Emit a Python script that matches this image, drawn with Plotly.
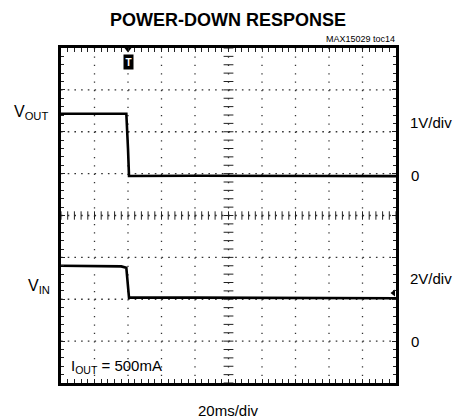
import plotly.graph_objects as go

# ---- data ----
t_out = [-40, -20, -1, 0, 0.6, 40, 80, 120, 160]          # ms
v_out = [1.43, 1.43, 1.43, 0.6, -0.055, -0.05, -0.06, -0.055, -0.06]  # V, 1V/div
t_in = [-40, -20, -4, -1, 0, 0.6, 40, 80, 120, 160]        # ms
v_in = [3.6, 3.6, 3.57, 3.5, 2.6, 2.08, 2.08, 2.07, 2.06, 2.05]      # V, 2V/div

X_RANGE = [-40, 160]      # 20 ms/div, 10 div
VOUT_RANGE = [-5, 3]      # 1 V/div, 8 div
VIN_RANGE = [-2, 14]      # 2 V/div, 8 div

W, H = 456, 420
L, R, T, B = 61, 60, 48, 37
PW, PH = W - L - R, H - T - B
FONT = "Liberation Sans, Arial, sans-serif"

def px(x):
    return (x - L) / PW

def py(y):
    return 1 - (y - T) / PH

fig = go.Figure()

# dotted graticule (drawn as shapes, under the traces)
for i in range(1, 10):
    xv = X_RANGE[0] + i * 20
    fig.add_shape(type="line", xref="x", yref="paper", x0=xv, x1=xv, y0=1, y1=0, layer="below",
                  line=dict(color="#333", width=1.3, dash="1.3px,7.075px"))
for i in range(1, 8):
    yv = VOUT_RANGE[0] + i
    fig.add_shape(type="line", xref="x", yref="y", x0=X_RANGE[0], x1=X_RANGE[1], y0=yv, y1=yv, layer="below",
                  line=dict(color="#333", width=1.4, dash="1.6px,5.1px"))

fig.add_trace(go.Scatter(x=t_out, y=v_out, mode="lines", yaxis="y",
                         line=dict(color="black", width=2.6), showlegend=False))
fig.add_trace(go.Scatter(x=t_in, y=v_in, mode="lines", yaxis="y2",
                         line=dict(color="black", width=2.6), showlegend=False))

# centre crosshair tick marks
xc = (X_RANGE[0] + X_RANGE[1]) / 2
yc = (VOUT_RANGE[0] + VOUT_RANGE[1]) / 2
xs = [X_RANGE[0] + i * 4 for i in range(51)]
ys = [VOUT_RANGE[0] + i * 0.2 for i in range(41)]
fig.add_trace(go.Scatter(x=xs, y=[yc] * len(xs), mode="markers", yaxis="y",
                         marker=dict(symbol="line-ns", size=6, line=dict(color="#222", width=1)),
                         showlegend=False, hoverinfo="skip"))
fig.add_trace(go.Scatter(x=[xc] * len(ys), y=ys, mode="markers", yaxis="y",
                         marker=dict(symbol="line-ew", size=7, line=dict(color="#222", width=1)),
                         showlegend=False, hoverinfo="skip"))

# trigger marker at top border and channel marker at right
fig.add_trace(go.Scatter(x=[0], y=[VOUT_RANGE[1]], mode="markers", yaxis="y", cliponaxis=False,
                         marker=dict(symbol="triangle-down", size=9, color="black"),
                         showlegend=False, hoverinfo="skip"))
fig.add_trace(go.Scatter(x=[X_RANGE[1] - 1.5], y=[v_in[-1] + 0.25], mode="markers", yaxis="y2", cliponaxis=False,
                         marker=dict(symbol="triangle-left", size=6, color="black"),
                         showlegend=False, hoverinfo="skip"))

axis_common = dict(showline=True, linecolor="black", linewidth=2.5, mirror="allticks",
                   ticks="inside", ticklen=4, tickcolor="#222", showticklabels=False,
                   zeroline=False, fixedrange=True, showgrid=False)

fig.update_layout(
    width=W, height=H,
    margin=dict(l=L, r=R, t=T, b=B),
    paper_bgcolor="white", plot_bgcolor="white",
    xaxis=dict(range=X_RANGE, dtick=20, tick0=0,
               minor=dict(dtick=4, tick0=0, ticks="inside", ticklen=3, tickcolor="#222", showgrid=False),
               **axis_common),
    yaxis=dict(range=VOUT_RANGE, dtick=1, tick0=0,
               minor=dict(dtick=0.2, tick0=0, ticks="inside", ticklen=3, tickcolor="#222", showgrid=False),
               **axis_common),
    yaxis2=dict(range=VIN_RANGE, overlaying="y", showgrid=False, showticklabels=False,
                zeroline=False, showline=False, ticks="", fixedrange=True),
)

def label(text, x, y, size, xanchor="left", yanchor="middle", color="black"):
    fig.add_annotation(text=text, x=px(x), y=py(y), xref="paper", yref="paper",
                       xanchor=xanchor, yanchor=yanchor, showarrow=False,
                       font=dict(family=FONT, size=size, color=color))

label("<b>POWER-DOWN RESPONSE</b>", 228, 20, 18, xanchor="center")
label("MAX15029 toc14", 397, 39, 9, xanchor="right")
label("V<sub>OUT</sub>", 12, 112, 16)
label("1V/div", 408, 122, 15)
label("0", 409, 175, 15)
label("V<sub>IN</sub>", 26, 286, 16)
label("2V/div", 408, 278, 15)
label("0", 409, 341, 15)
label("I<sub>OUT</sub> = 500mA", 69, 366, 15)
label("20ms/div", 228, 410, 15, xanchor="center")

fig.add_annotation(text="<b>T</b>", x=0, y=py(62), xref="x", yref="paper", showarrow=False,
                   yanchor="middle", bgcolor="black", borderpad=1.5,
                   font=dict(family=FONT, size=10, color="white"))

fig.write_html("out.html", config={"displayModeBar": False},
               post_script="document.body.style.margin='0';document.body.style.padding='0';")
